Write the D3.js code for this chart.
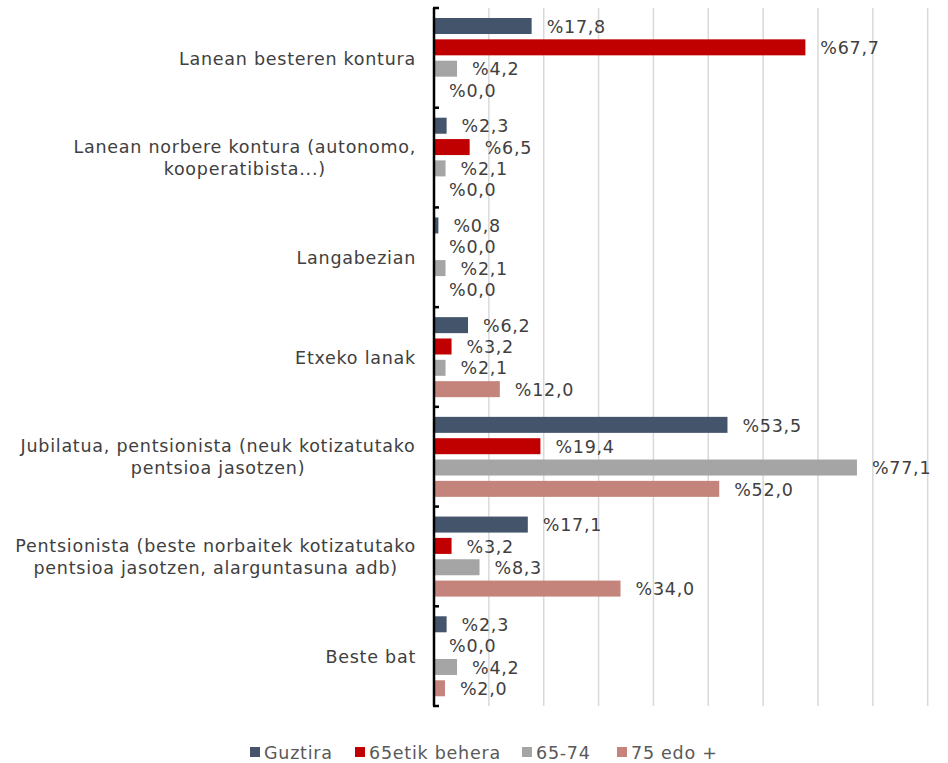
<!DOCTYPE html>
<html><head><meta charset="utf-8">
<script src="https://cdn.jsdelivr.net/npm/d3@7"></script>
<style>body{margin:0;background:#fff;} text{font-family:"DejaVu Sans",Verdana,sans-serif;letter-spacing:0.75px;}</style>
</head><body>
<svg id="c" width="948" height="763"></svg>
<script>
const categories = [
  ["Lanean besteren kontura"],
  ["Lanean norbere kontura (autonomo,", "kooperatibista...)"],
  ["Langabezian"],
  ["Etxeko lanak"],
  ["Jubilatua, pentsionista (neuk kotizatutako", "pentsioa jasotzen)"],
  ["Pentsionista (beste norbaitek kotizatutako", "pentsioa jasotzen, alarguntasuna adb)"],
  ["Beste bat"]
];
const seriesNames = ["Guztira", "65etik behera", "65-74", "75 edo +"];
const guztira   = [17.8, 2.3, 0.8, 6.2, 53.5, 17.1, 2.3];
const behera65  = [67.7, 6.5, 0.0, 3.2, 19.4, 3.2, 0.0];
const s6574     = [4.2, 2.1, 2.1, 2.1, 77.1, 8.3, 4.2];
const edo75     = [0.0, 0.0, 0.0, 12.0, 52.0, 34.0, 2.0];
const colors = ["#44546A", "#C00000", "#A5A5A5", "#C5847B"];
const gridTicks = [10,20,30,40,50,60,70,80,90];

const seriesValues = [guztira, behera65, s6574, edo75];
const FS = 17.5;
const svg = d3.select("#c");
const x0 = 434, x1 = 927.7, yTop = 8, yBot = 706;
const x = d3.scaleLinear().domain([0, 90]).range([x0, x1]);
const y = d3.scaleBand().domain(d3.range(categories.length)).range([yTop, yBot]);
const yi = d3.scaleBand().domain(d3.range(seriesNames.length)).range([10, y.bandwidth()-9.7]).paddingInner(0.25);

// gridlines
svg.append("g").selectAll("line").data(gridTicks).join("line")
  .attr("x1", d=>x(d)).attr("x2", d=>x(d)).attr("y1", yTop).attr("y2", yBot)
  .attr("stroke", "#d9d9d9").attr("stroke-width", 1.5);

// bars
const g = svg.append("g");
categories.forEach((c, ci) => {
  seriesValues.forEach((vals, si) => {
    const v = vals[ci];
    const yy = y(ci) + yi(si);
    g.append("rect").attr("x", x(0)).attr("y", yy)
      .attr("width", x(v) - x(0)).attr("height", yi.bandwidth())
      .attr("fill", colors[si]);
    g.append("text").attr("x", x(v) + 15).attr("y", yy + yi.bandwidth()/2)
      .attr("dy", "0.38em").attr("font-size", FS).attr("fill", "#404040")
      .text("%" + v.toFixed(1).replace(".", ","));
  });
});

// axis
const axis = d3.axisLeft(y).tickSize(0).tickFormat("");
const ag = svg.append("g").attr("transform", `translate(${x0},0)`).call(axis);
ag.select(".domain").remove();
ag.append("line").attr("x1",0).attr("x2",0).attr("y1",yTop).attr("y2",yBot).attr("stroke","#000").attr("stroke-width",2.5);
const bounds = d3.range(categories.length+1).map(i => yTop + i*y.step());
ag.selectAll(".tk").data(bounds).join("line").attr("class","tk")
  .attr("x1",-1).attr("x2",5).attr("y1",d=>d).attr("y2",d=>d).attr("stroke","#000").attr("stroke-width",2.5);

// category labels
const lg = svg.append("g");
categories.forEach((lines, ci) => {
  const cy = y(ci) + y.bandwidth()/2;
  const t = lg.append("text").attr("font-size", FS).attr("fill", "#404040").attr("text-anchor", "middle");
  const lh = 22;
  lines.forEach((l, li) => {
    t.append("tspan").attr("x", 0).attr("y", cy + (li - (lines.length-1)/2)*lh).attr("dy","0.38em").text(l);
  });
  const w = t.node().getBBox().width;
  t.selectAll("tspan").attr("x", 416 - w/2);
});

// legend
const legX = [250, 355, 522, 617];
const leg = svg.append("g");
seriesNames.forEach((s, i) => {
  leg.append("rect").attr("x", legX[i]).attr("y", 747).attr("width", 10).attr("height", 10).attr("fill", colors[i]);
  leg.append("text").attr("x", legX[i] + 14).attr("y", 752).attr("dy","0.38em").attr("font-size",FS).attr("fill","#595959").text(s);
});
</script>
</body></html>
